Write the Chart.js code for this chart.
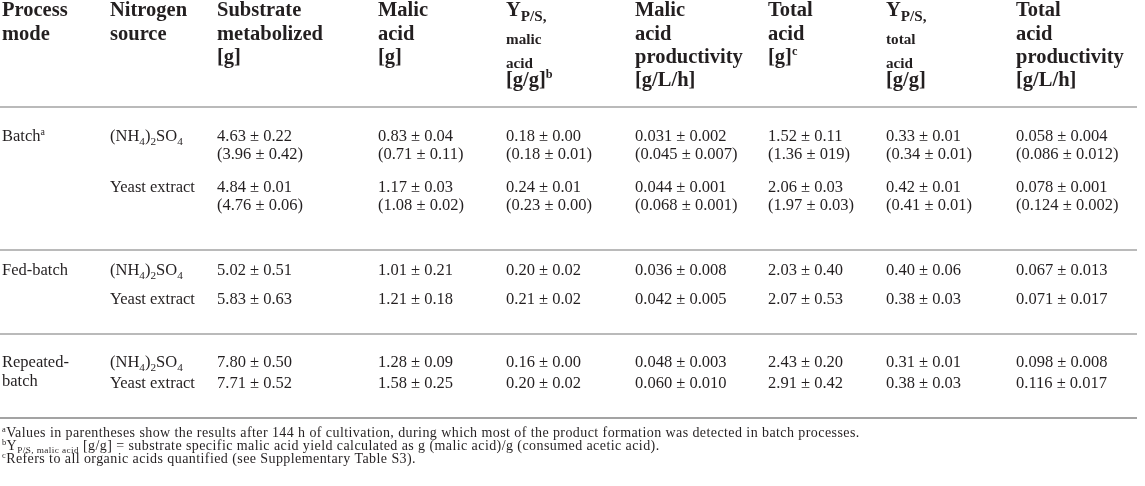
<!DOCTYPE html>
<html lang="en">
<head>
<meta charset="UTF-8">
<title>Malic acid production by process mode</title>
<script src="https://cdn.jsdelivr.net/npm/chart.js@4.4.0/dist/chart.umd.min.js"></script>
<style>
  html, body { margin: 0; padding: 0; background: #fff; }
  #wrap { width: 1145px; height: 486px; }
</style>
</head>
<body>
<div id="wrap"><canvas id="tableChart"></canvas></div>
<script>
// ---- data (markup: _{..} subscript, ^{..} superscript, | line break) ----
const headers = [
  'Process|mode',
  'Nitrogen|source',
  'Substrate|metabolized|[g]',
  'Malic|acid|[g]',
  'Y_{P/S,}|_{malic}|_{acid}|[g/g]^{b}',
  'Malic|acid|productivity|[g/L/h]',
  'Total|acid|[g]^{c}',
  'Y_{P/S,}|_{total}|_{acid}|[g/g]',
  'Total|acid|productivity|[g/L/h]'
];
const processModes = ['Batch^{a}', 'Fed-batch', 'Repeated-|batch'];
const nitrogenSources = ['(NH_{4})_{2}SO_{4}', 'Yeast extract'];

// one entry per row: Batch NH4, Batch YE, Fed NH4, Fed YE, Rep NH4, Rep YE
const substrate  = ['4.63 ± 0.22', '4.84 ± 0.01', '5.02 ± 0.51', '5.83 ± 0.63', '7.80 ± 0.50', '7.71 ± 0.52'];
const malicAcid  = ['0.83 ± 0.04', '1.17 ± 0.03', '1.01 ± 0.21', '1.21 ± 0.18', '1.28 ± 0.09', '1.58 ± 0.25'];
const yieldMalic = ['0.18 ± 0.00', '0.24 ± 0.01', '0.20 ± 0.02', '0.21 ± 0.02', '0.16 ± 0.00', '0.20 ± 0.02'];
const prodMalic  = ['0.031 ± 0.002', '0.044 ± 0.001', '0.036 ± 0.008', '0.042 ± 0.005', '0.048 ± 0.003', '0.060 ± 0.010'];
const totalAcid  = ['1.52 ± 0.11', '2.06 ± 0.03', '2.03 ± 0.40', '2.07 ± 0.53', '2.43 ± 0.20', '2.91 ± 0.42'];
const yieldTotal = ['0.33 ± 0.01', '0.42 ± 0.01', '0.40 ± 0.06', '0.38 ± 0.03', '0.31 ± 0.01', '0.38 ± 0.03'];
const prodTotal  = ['0.058 ± 0.004', '0.078 ± 0.001', '0.067 ± 0.013', '0.071 ± 0.017', '0.098 ± 0.008', '0.116 ± 0.017'];

// batch values after 144 h (shown in parentheses)
const substrate144  = ['3.96 ± 0.42', '4.76 ± 0.06'];
const malicAcid144  = ['0.71 ± 0.11', '1.08 ± 0.02'];
const yieldMalic144 = ['0.18 ± 0.01', '0.23 ± 0.00'];
const prodMalic144  = ['0.045 ± 0.007', '0.068 ± 0.001'];
const totalAcid144  = ['1.36 ± 019', '1.97 ± 0.03'];
const yieldTotal144 = ['0.34 ± 0.01', '0.41 ± 0.01'];
const prodTotal144  = ['0.086 ± 0.012', '0.124 ± 0.002'];

const footnotes = [
  '^{a}Values in parentheses show the results after 144 h of cultivation, during which most of the product formation was detected in batch processes.',
  '^{b}Y_{P/S, malic acid} [g/g] = substrate specific malic acid yield calculated as g (malic acid)/g (consumed acetic acid).',
  '^{c}Refers to all organic acids quantified (see Supplementary Table S3).'
];

// ---- layout (page units, same as the hidden scales) ----
const colX = [2, 110, 217, 378, 506, 635, 768, 886, 1016];
const headBase = [16, 39.5, 63, 86];
const rowBase = [141, 192, 275, 304, 367, 388];
const line2Gap = 18;
const ruleY = [107, 250, 334, 418];
const ruleW = [1.5, 1.5, 1.5, 2];
const ruleEnd = 1137;
const footBase = [437, 450, 463];

const FAMILY = '"Liberation Serif", "Times New Roman", serif';
const INK = '#231f20';

// ---- build point datasets ----
const valueCols = [substrate, malicAcid, yieldMalic, prodMalic, totalAcid, yieldTotal, prodTotal];
const valueCols144 = [substrate144, malicAcid144, yieldMalic144, prodMalic144, totalAcid144, yieldTotal144, prodTotal144];

const headPts = [];
headers.forEach((h, c) => {
  h.split('|').forEach((t, l) => headPts.push({ x: colX[c], y: headBase[l], text: t }));
});

const bodyPts = [];
processModes.forEach((p, g) => {
  p.split('|').forEach((t, l) => bodyPts.push({ x: colX[0], y: rowBase[g * 2] + l * (line2Gap + 1), text: t }));
});
rowBase.forEach((yb, r) => {
  bodyPts.push({ x: colX[1], y: yb, text: nitrogenSources[r % 2] });
  valueCols.forEach((col, c) => {
    bodyPts.push({ x: colX[c + 2], y: yb, text: col[r] });
    if (r < 2) bodyPts.push({ x: colX[c + 2], y: yb + line2Gap, text: '(' + valueCols144[c][r] + ')' });
  });
});

const footPts = footnotes.map((t, i) => ({ x: colX[0], y: footBase[i], text: t }));

function textSet(label, pts, size, weight, subScale, spacing) {
  return { label, data: pts, pointRadius: 0, pointHoverRadius: 0, showLine: false,
           font: { size, weight }, subScale, spacing };
}

// ---- rich text drawing ----
function drawRich(ctx, markup, x, y, ds) {
  const size = ds.font.size, weight = ds.font.weight;
  const re = /(_|\^)\{([^}]*)\}/g;
  const segs = [];
  let last = 0, m;
  while ((m = re.exec(markup))) {
    if (m.index > last) segs.push({ t: markup.slice(last, m.index), k: '' });
    segs.push({ t: m[2], k: m[1] });
    last = re.lastIndex;
  }
  if (last < markup.length) segs.push({ t: markup.slice(last), k: '' });
  ctx.letterSpacing = (ds.spacing || 0) + 'px';
  let cx = x;
  segs.forEach(s => {
    let fs = size, dy = 0;
    if (s.k === '_') { fs = size * ds.subScale; dy = size * 0.22; }
    if (s.k === '^') { fs = size * 0.6; dy = -size * 0.38; }
    ctx.font = weight + ' ' + fs + 'px ' + FAMILY;
    ctx.fillText(s.t, cx, y + dy);
    cx += ctx.measureText(s.t).width;
  });
  ctx.letterSpacing = '0px';
}

const rulesPlugin = {
  id: 'rules',
  beforeDatasetsDraw(chart) {
    const { ctx, scales: { x, y } } = chart;
    ctx.save();
    ctx.strokeStyle = '#a3a3a3';
    ruleY.forEach((v, i) => {
      ctx.lineWidth = ruleW[i];
      ctx.beginPath();
      ctx.moveTo(x.getPixelForValue(0), y.getPixelForValue(v));
      ctx.lineTo(x.getPixelForValue(ruleEnd), y.getPixelForValue(v));
      ctx.stroke();
    });
    ctx.restore();
  }
};

const cellTextPlugin = {
  id: 'cellText',
  afterDatasetsDraw(chart) {
    const ctx = chart.ctx;
    ctx.save();
    ctx.fillStyle = INK;
    ctx.textAlign = 'left';
    ctx.textBaseline = 'alphabetic';
    chart.data.datasets.forEach((ds, i) => {
      const meta = chart.getDatasetMeta(i);
      meta.data.forEach((el, j) => drawRich(ctx, ds.data[j].text, el.x, el.y, ds));
    });
    ctx.restore();
  }
};

new Chart(document.getElementById('tableChart'), {
  type: 'scatter',
  data: {
    datasets: [
      textSet('header', headPts, 20.5, 'bold', 0.74, 0),
      textSet('body', bodyPts, 16.5, 'normal', 0.68, 0),
      textSet('footnotes', footPts, 14, 'normal', 0.66, 0.42)
    ]
  },
  options: {
    responsive: true,
    maintainAspectRatio: false,
    animation: false,
    layout: { padding: 0 },
    events: [],
    scales: {
      x: { type: 'linear', min: 0, max: 1145, display: false },
      y: { type: 'linear', min: 0, max: 486, reverse: true, display: false }
    },
    plugins: { legend: { display: false }, tooltip: { enabled: false } }
  },
  plugins: [rulesPlugin, cellTextPlugin]
});
</script>
</body>
</html>
